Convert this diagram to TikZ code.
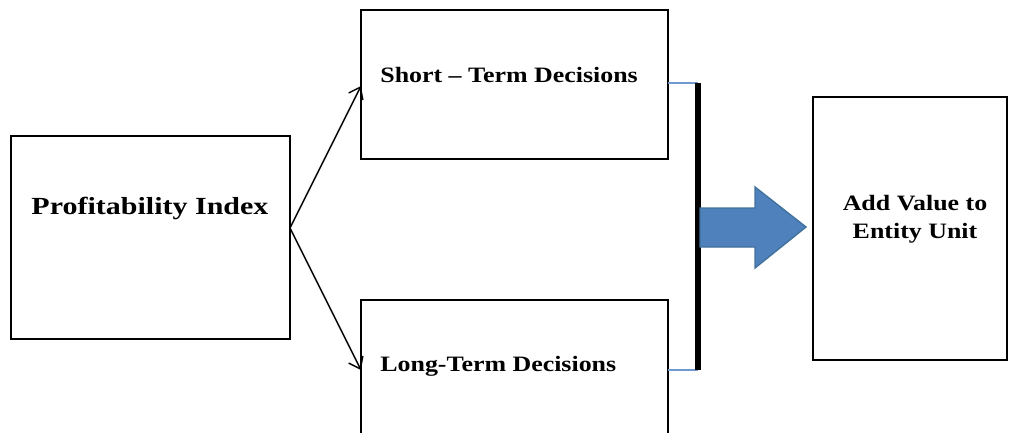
\documentclass[tikz,border=0pt]{standalone}
\usepackage{fontspec}
\setmainfont{Liberation Serif}
\newfontfamily\spreadA[FakeStretch=1.22]{Liberation Serif}
\newfontfamily\spreadB[FakeStretch=1.18]{Liberation Serif}
\usetikzlibrary{arrows.meta}
\definecolor{ofblue}{HTML}{4F81BD}
\definecolor{ofedge}{HTML}{41719C}
\definecolor{linkblue}{HTML}{6F9AD0}
\begin{document}
\begin{tikzpicture}[x=0.02cm,y=-0.02cm,
  box/.style={draw=black,line width=1.6pt,inner sep=0pt},
  bigl/.style={font=\spreadA\fontsize{14}{16}\selectfont\bfseries,inner sep=0pt},
  lbl/.style={font=\spreadB\fontsize{12.5}{16}\selectfont\bfseries,inner sep=0pt},
  conn/.style={line width=0.8pt,-{Straight Barb[length=6pt,width=9pt]}},
  link/.style={draw=linkblue,line width=0.6pt}]
\useasboundingbox (0,0) rectangle (1009,433);
% boxes
\draw[box] (11,136) rectangle (290,339);
\coordinate (pi) at (290,228);
\node[bigl] (pit) at (150,208) {Profitability Index};
\draw[box] (361,10) rectangle (668,159);
\node[lbl,anchor=west] (stt) at (380,75) {Short – Term Decisions};
\draw[box] (361,300) rectangle (668,440);
\node[lbl,anchor=west] (ltt) at (380,366) {Long-Term Decisions};
\draw[box] (813,97) rectangle (1007,360);
\node[lbl,align=center] (avt) at (915,219) {Add Value to\\Entity Unit};
% connectors
\coordinate (sin) at (361,86);
\coordinate (lin) at (361,370);
\draw[conn] (pi) -- (sin);
\draw[conn] (pi) -- (lin);
% links to bar
\coordinate (sout) at (668,83);
\coordinate (lout) at (668,370);
\coordinate (btop) at (698,83);
\coordinate (bbot) at (698,370);
\draw[link] (sout) -- (btop);
\draw[link] (lout) -- (bbot);
\draw[line width=3pt] (btop) -- (bbot);
% block arrow
\filldraw[fill=ofblue,draw=ofedge,line width=0.8pt]
  (700,208) -- (755,208) -- (755,187) -- (806,227) -- (755,268) -- (755,247) -- (700,247) -- cycle;
\end{tikzpicture}
\end{document}
